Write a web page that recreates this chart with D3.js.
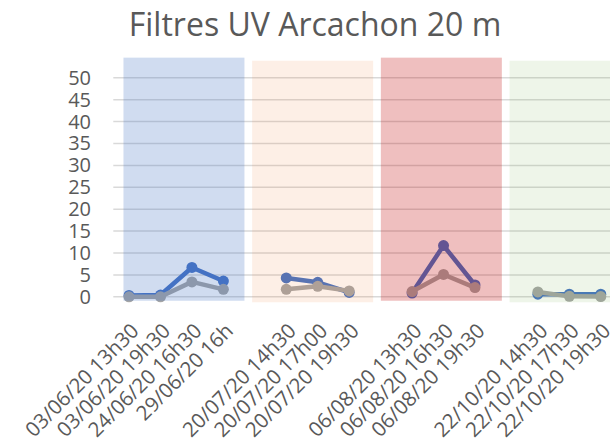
<!DOCTYPE html>
<html>

<head>
  <meta charset="utf-8">
  <script src="https://cdn.jsdelivr.net/npm/d3@7"></script>
  <style type="text/css">
    body {
      margin: 0;
      background: #fff;
      font-family: "Open Sans", "Noto Sans", sans-serif;
    }
  </style>
</head>

<body>
  <script type="text/javascript">
    const width = 610;
    const height = 440;

    // sampling dates (blank slots = gaps between campaigns)
    const categories = [
      '03/06/20 13h30', '03/06/20 19h30', '24/06/20 16h30', '29/06/20 16h', '',
      '20/07/20 14h30', '20/07/20 17h00', '20/07/20 19h30', '',
      '06/08/20 13h30', '06/08/20 16h30', '06/08/20 19h30', '',
      '22/10/20 14h30', '22/10/20 17h30', '22/10/20 19h30'
    ];
    const seriesA = [0.3, 0.4, 6.7, 3.6, null, 4.3, 3.3, 1.0, null, 0.85, 11.7, 2.7, null, 0.6, 0.6, 0.6];
    const seriesB = [0, 0, 3.4, 1.7, null, 1.7, 2.4, 1.35, null, 1.2, 5.1, 2.1, null, 1.1, 0.1, 0.05];
    const yTicks = [0, 5, 10, 15, 20, 25, 30, 35, 40, 45, 50];

    // campaign background bands
    const bandNames = ['juin', 'juillet', 'août', 'octobre'];
    const bandTop = [54.6, 53.9, 54.6, 53.9];
    const bandBottom = [-0.9, -1.25, -0.9, -1.25];
    const bandColors = ['#4472C4', '#ED7D31', '#C00000', '#70AD47'];
    const bandOpacity = [0.25, 0.12, 0.25, 0.12];

    const svg = d3.select('body').append('svg')
      .attr('width', width)
      .attr('height', height);

    const x = d3.scaleBand()
      .domain(d3.range(categories.length))
      .range([113.3, 616.5]);

    const y = d3.scaleLinear()
      .domain([0, 50])
      .range([296.8, 77.8]);

    const xb = d3.scaleBand()
      .domain(bandNames)
      .range([119.6, 634.4])
      .paddingInner(0.06)
      .paddingOuter(0.03);

    const cx = i => x(i) + x.bandwidth() / 2;

    // title
    svg.append('text')
      .attr('x', 315)
      .attr('y', 36)
      .attr('text-anchor', 'middle')
      .style('font-size', '32px')
      .style('fill', '#595959')
      .text('Filtres UV Arcachon 20 m');

    // gridlines
    svg.append('g').selectAll('line').data(yTicks).join('line')
      .attr('x1', 113.3)
      .attr('x2', width)
      .attr('y1', d => y(d))
      .attr('y2', d => y(d))
      .style('stroke', '#D9D9D9')
      .style('stroke-width', 1.5);

    // y axis labels
    const yAxis = svg.append('g')
      .attr('transform', 'translate(100,0)')
      .call(d3.axisLeft(y).tickValues(yTicks).tickSize(0).tickPadding(9));
    yAxis.select('.domain').remove();
    yAxis.selectAll('text')
      .style('font-family', '"Open Sans", sans-serif')
      .style('font-size', '20px')
      .style('fill', '#595959');

    // x axis labels
    svg.append('g').selectAll('text').data(categories).join('text')
      .attr('transform', (d, i) => `translate(${cx(i) + 6},${327}) rotate(-45)`)
      .attr('dy', '0.35em')
      .attr('text-anchor', 'end')
      .style('font-size', '20.5px')
      .style('fill', '#595959')
      .text(d => d);

    // series
    const line = d3.line()
      .defined(d => d != null)
      .x((d, i) => cx(i))
      .y(d => y(d));

    const series = [
      { values: seriesA, color: '#4472C4' },
      { values: seriesB, color: '#A5A5A5' }
    ];

    series.forEach(s => {
      const g = svg.append('g');
      g.append('path')
        .attr('d', line(s.values))
        .style('fill', 'none')
        .style('stroke', s.color)
        .style('stroke-width', 4.5)
        .style('stroke-linejoin', 'round');
      g.selectAll('circle')
        .data(s.values.map((v, i) => ({ v, i })).filter(d => d.v != null))
        .join('circle')
        .attr('cx', d => cx(d.i))
        .attr('cy', d => y(d.v))
        .attr('r', 5.5)
        .style('fill', s.color);
    });

    // translucent bands on top
    svg.append('g').selectAll('rect').data(bandNames).join('rect')
      .attr('x', d => xb(d))
      .attr('width', xb.bandwidth())
      .attr('y', (d, i) => y(bandTop[i]))
      .attr('height', (d, i) => y(bandBottom[i]) - y(bandTop[i]))
      .style('fill', (d, i) => bandColors[i])
      .style('fill-opacity', (d, i) => bandOpacity[i]);
  </script>
</body>

</html>
